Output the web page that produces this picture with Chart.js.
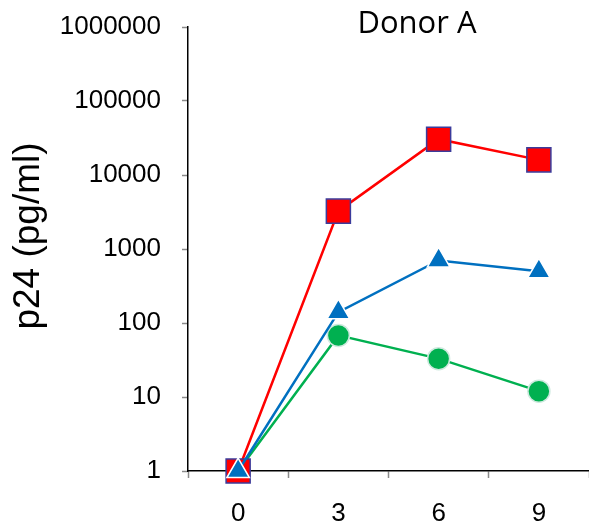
<!DOCTYPE html>
<html>
<head>
<meta charset="utf-8">
<script src="https://cdn.jsdelivr.net/npm/chart.js@4"></script>
<style>
  html, body { margin: 0; padding: 0; background: #fff; }
  #wrap { width: 589px; height: 525px; }
</style>
</head>
<body>
<div id="wrap"><canvas id="myChart" width="589" height="525"></canvas></div>
<script>
'use strict';

// days post infection
let days = ['0', '3', '6', '9'];
let yTicks = [1, 10, 100, 1000, 10000, 100000, 1000000];

let redValues = [1, 3250, 30500, 16000];
let blueValues = [1, 140, 700, 500];
let greenValues = [1, 68, 33, 12];

let chartTitle = 'Donor A';
let yTitle = 'p24 (pg/ml)';

// title over the plot (a bit right of center) and the y title, both placed by hand
let titlePlugin = {
  id: 'donorTitle',
  afterDraw(chart) {
    let ctx = chart.ctx;
    ctx.save();
    ctx.font = '31px "Open Sans", "Noto Sans", sans-serif';
    ctx.fillStyle = '#000';
    ctx.textAlign = 'center';
    ctx.textBaseline = 'alphabetic';
    ctx.fillText(chartTitle, chart.chartArea.left + 229, 33);

    ctx.translate(29, 236);
    ctx.rotate(-Math.PI / 2);
    ctx.font = '37px "Liberation Sans", Arial, sans-serif';
    ctx.textBaseline = 'middle';
    ctx.fillText(yTitle, 0, 0);
    ctx.restore();
  }
};

let ctx = document.getElementById('myChart').getContext('2d');
let myChart = new Chart(ctx, {
  type: 'line',
  data: {
    labels: days,
    datasets: [{
      data: blueValues,
      borderColor: '#0070C0',
      backgroundColor: '#0070C0',
      borderWidth: 2.5,
      pointStyle: 'triangle',
      pointRadius: 13,
      pointBorderColor: '#ffffff',
      pointBorderWidth: 1.5
    }, {
      data: redValues,
      borderColor: '#FF0000',
      backgroundColor: '#FF0000',
      borderWidth: 2.5,
      pointStyle: 'rect',
      pointRadius: 17,
      pointBorderColor: '#3B3B9B',
      pointBorderWidth: 1.5
    }, {
      data: greenValues,
      borderColor: '#00B050',
      backgroundColor: '#00B050',
      borderWidth: 2.5,
      pointStyle: 'circle',
      pointRadius: 11,
      pointBorderColor: '#CFE9DF',
      pointBorderWidth: 1.5
    }]
  },
  options: {
    responsive: false,
    animation: false,
    clip: false,
    layout: { autoPadding: false, padding: { top: 27, right: 0, left: 0, bottom: 0 } },
    plugins: {
      legend: { display: false },
      title: { display: false },
      tooltip: { enabled: false }
    },
    elements: { line: { tension: 0 } },
    scales: {
      x: {
        type: 'category',
        offset: true,
        grid: {
          offset: true,
          drawOnChartArea: false,
          drawTicks: true,
          tickLength: 7,
          tickColor: '#8a8a8a',
          tickWidth: 1.5
        },
        border: { color: '#000', width: 1.5 },
        ticks: {
          color: '#000',
          padding: 20,
          font: { family: '"Liberation Sans", Arial, sans-serif', size: 26 }
        },
        afterFit(scale) {
          scale.height = 54;
          scale.paddingLeft = 0;
          scale.paddingRight = 0;
        }
      },
      y: {
        type: 'logarithmic',
        min: 1,
        max: 1000000,
        grid: {
          drawOnChartArea: false,
          drawTicks: true,
          tickLength: 6,
          tickColor: '#8a8a8a',
          tickWidth: 1.5
        },
        border: { color: '#000', width: 1.5 },
        afterBuildTicks(scale) {
          scale.ticks = yTicks.map(v => ({ value: v }));
        },
        ticks: {
          color: '#000',
          padding: 21,
          font: { family: '"Liberation Sans", Arial, sans-serif', size: 26 },
          callback: v => String(v)
        },
        title: { display: false },
        afterFit(scale) {
          scale.width = 188;
          scale.paddingTop = 0;
          scale.paddingBottom = 0;
        }
      }
    }
  },
  plugins: [titlePlugin]
});
</script>
</body>
</html>
